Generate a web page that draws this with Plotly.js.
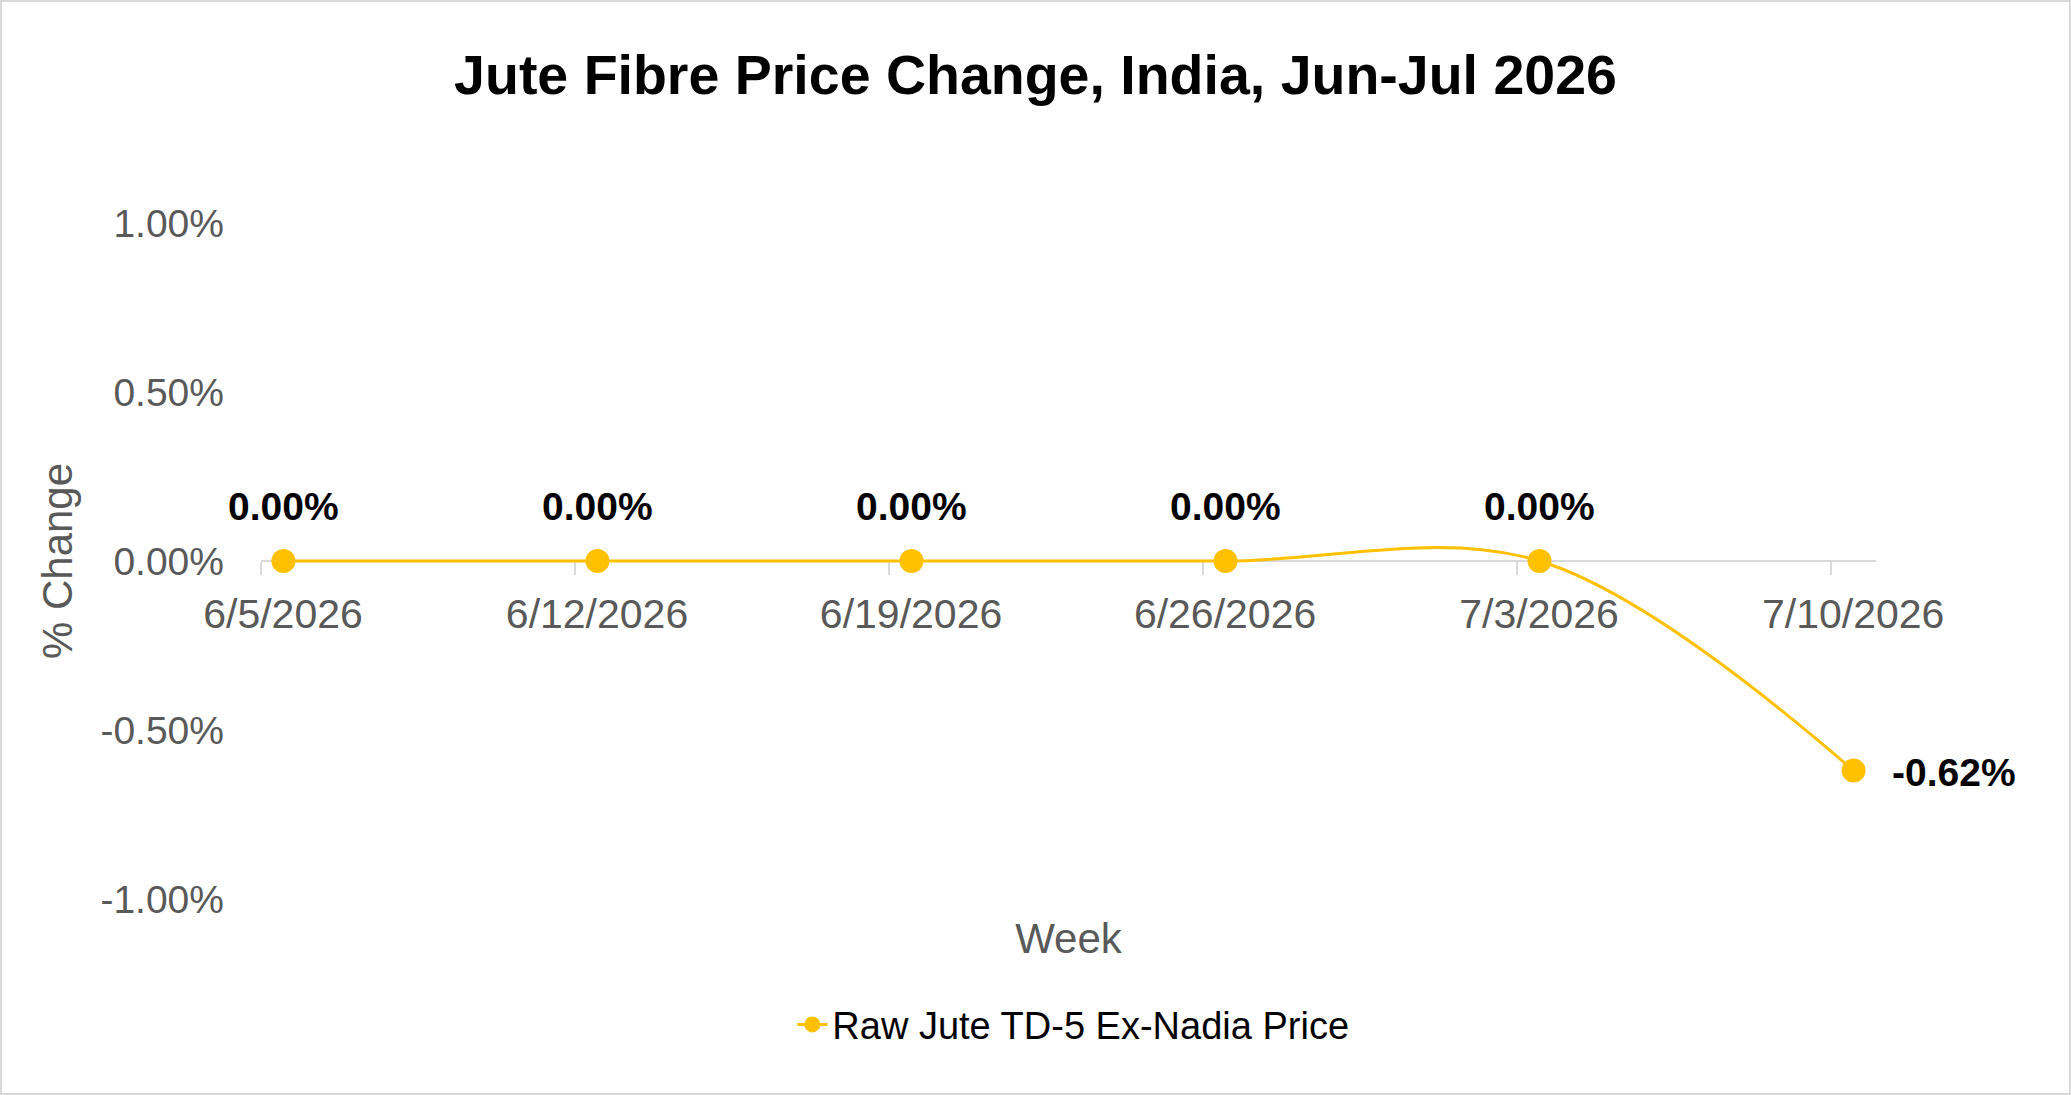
<!DOCTYPE html>
<html>
<head>
<meta charset="utf-8">
<script src="https://cdn.plot.ly/plotly-3.0.1.min.js"></script>
<style>
  html, body { margin: 0; padding: 0; background: #ffffff; }
  #chart { width: 2071px; height: 1095px; position: absolute; left: 0; top: 0; }
  #frame { position: absolute; left: 0; top: 0; width: 2071px; height: 1095px; box-sizing: border-box;
           border: 2px solid #d9d9d9; pointer-events: none; }
</style>
</head>
<body>
<div id="chart"></div>
<div id="frame"></div>
<script>
// ---- data ----
var weekDates = ['2026-06-05', '2026-06-12', '2026-06-19', '2026-06-26', '2026-07-03', '2026-07-10'];
var weekLabels = ['6/5/2026', '6/12/2026', '6/19/2026', '6/26/2026', '7/3/2026', '7/10/2026'];
var pctChange = [0.00, 0.00, 0.00, 0.00, 0.00, -0.62];   // percent
var seriesName = 'Raw Jute TD-5 Ex-Nadia Price';
var yTickVals = [-0.01, -0.005, 0, 0.005, 0.01];

// ---- derived ----
// Points sit in the middle of their day slot (date axis, between tick marks)
var xPts = weekDates.map(function (d) { return d + ' 12:00'; });
var yPts = pctChange.map(function (v) { return v / 100; });
var yTickText = yTickVals.map(function (v) { return (v * 100).toFixed(2) + '%'; });

var gold = '#FFC000';
var grey = '#595959';
var font = 'Liberation Sans, Arial, sans-serif';

var trace = {
  type: 'scatter',
  mode: 'lines+markers',
  name: seriesName,
  x: xPts,
  y: yPts,
  line: { color: gold, width: 3, shape: 'spline', smoothing: 1 },
  marker: { color: gold, size: 24 },
  hoverinfo: 'x+y'
};

var annotations = pctChange.map(function (v, i) {
  var last = (i === pctChange.length - 1);
  return {
    x: xPts[i], y: yPts[i], xref: 'x', yref: 'y',
    text: '<b>' + v.toFixed(2) + '%</b>',
    showarrow: false,
    font: { family: font, size: 39, color: '#000000' },
    xanchor: last ? 'left' : 'center',
    yanchor: 'middle',
    xshift: last ? 36 : 0,
    yshift: last ? -2 : 55
  };
});

var layout = {
  width: 2071,
  height: 1095,
  paper_bgcolor: '#ffffff',
  plot_bgcolor: '#ffffff',
  margin: { l: 261, r: 195, t: 223, b: 196, pad: 0 },
  font: { family: font, color: grey },
  title: {
    text: '<b>Jute Fibre Price Change, India, Jun-Jul 2026</b>',
    font: { family: font, size: 55.5, color: '#000000' },
    x: 0.5, xref: 'container', xanchor: 'center',
    y: 1 - 75 / 1095, yref: 'container', yanchor: 'middle'
  },
  showlegend: true,
  legend: {
    orientation: 'h',
    x: 0.503, xanchor: 'center',
    y: -0.186, yanchor: 'middle',
    font: { family: font, size: 38, color: '#000000' },
    bgcolor: 'rgba(0,0,0,0)'
  },
  xaxis: {
    type: 'date',
    range: ['2026-06-05', '2026-07-11'],
    anchor: 'free',
    position: 0.5,
    layer: 'below traces',
    tickmode: 'array',
    tickvals: weekDates,
    ticktext: weekLabels,
    ticklabelshift: 22,
    ticks: 'outside',
    ticklen: 13,
    tickwidth: 2,
    tickcolor: '#d9d9d9',
    showline: true,
    linecolor: '#d9d9d9',
    linewidth: 2,
    showgrid: false,
    zeroline: false,
    tickfont: { family: font, size: 41, color: grey },
    ticklabelstandoff: 4,
    title: {
      text: 'Week',
      font: { family: font, size: 42, color: grey },
      standoff: 286
    },
    automargin: false,
    fixedrange: true
  },
  yaxis: {
    range: [-0.01, 0.01],
    tickmode: 'array',
    tickvals: yTickVals,
    ticktext: yTickText,
    ticks: '',
    showline: false,
    showgrid: false,
    zeroline: false,
    tickfont: { family: font, size: 39, color: grey },
    ticklabelstandoff: 36,
    title: {
      text: '% Change',
      font: { family: font, size: 42, color: grey },
      standoff: 14
    },
    automargin: false,
    fixedrange: true
  },
  annotations: annotations
};

Plotly.newPlot('chart', [trace], layout, { displayModeBar: false, staticPlot: true });
</script>
</body>
</html>
